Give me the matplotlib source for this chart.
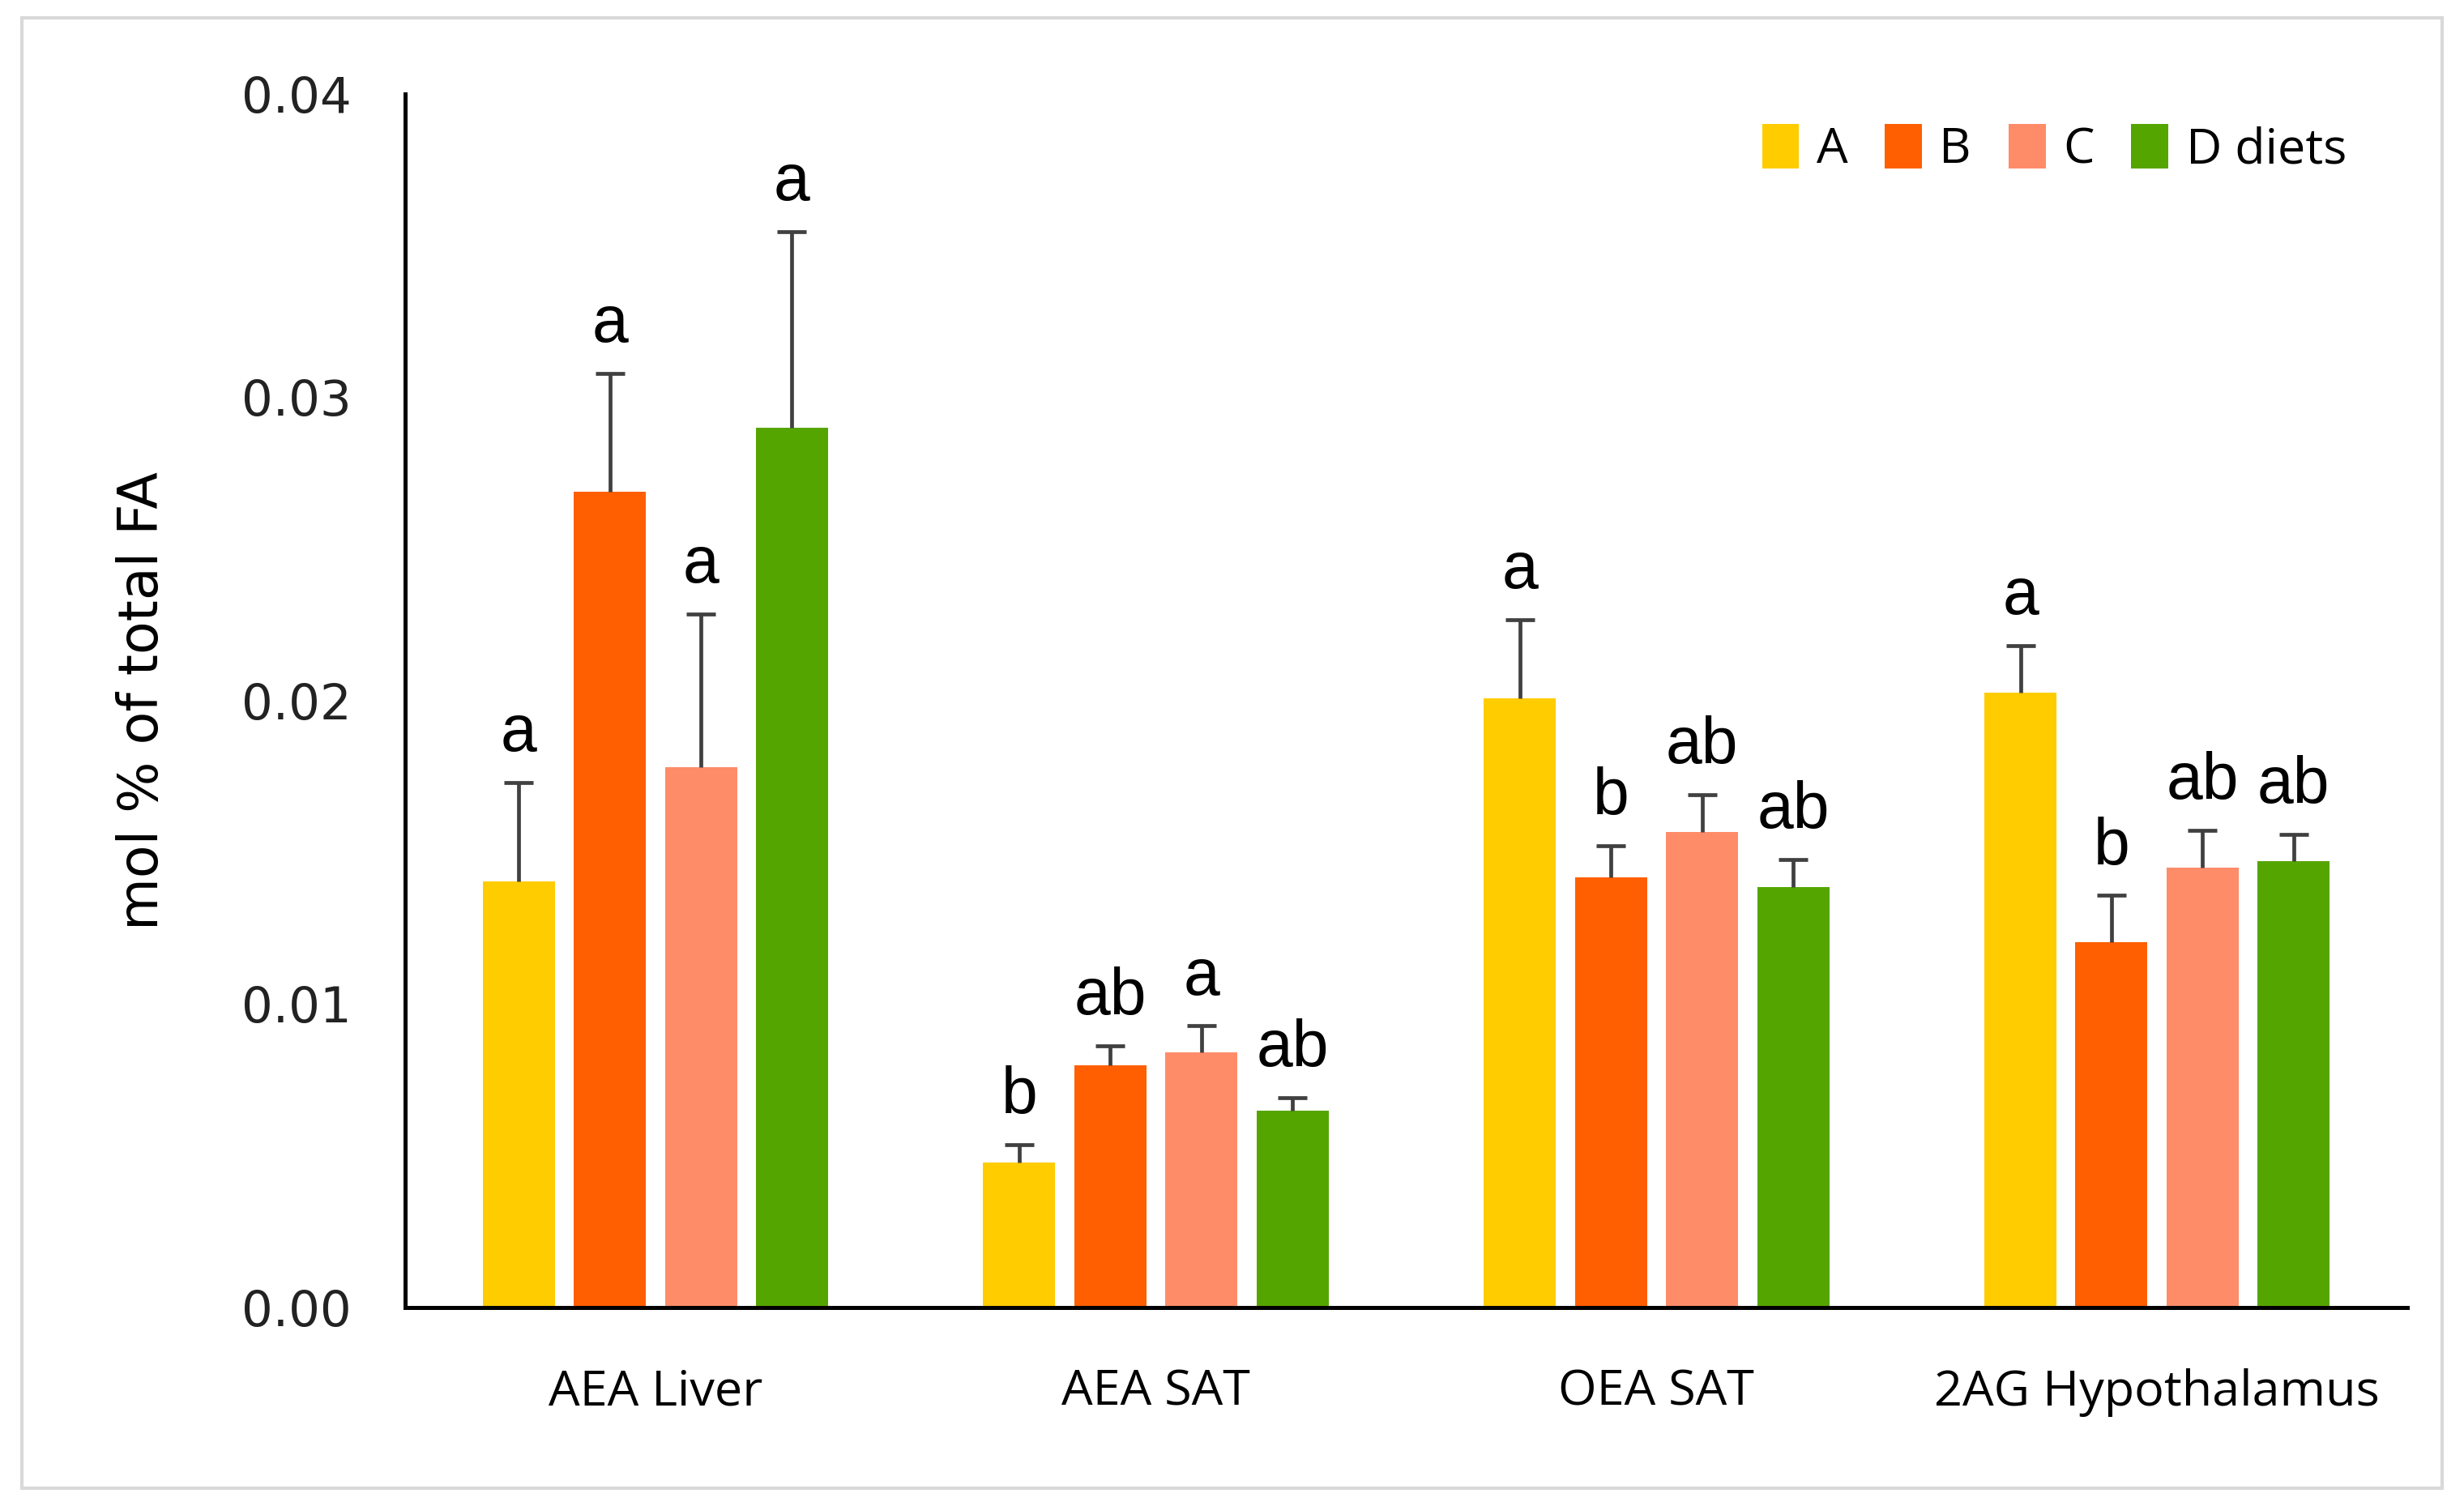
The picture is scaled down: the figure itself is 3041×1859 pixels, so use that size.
import matplotlib
matplotlib.use("Agg")
import matplotlib.pyplot as plt
import numpy as np
from matplotlib.patches import Rectangle

# data
categories = ['AEA Liver', 'AEA SAT', 'OEA SAT', '2AG Hypothalamus']
diets = ['A', 'B', 'C', 'D diets']
colors = ['#FFCC00', '#FF5F00', '#FF8C69', '#55A500']

means_a = [0.01405, 0.00478, 0.02007, 0.02028]
means_b = [0.02689, 0.00798, 0.01419, 0.01205]
means_c = [0.01780, 0.00841, 0.01567, 0.01450]
means_d = [0.02900, 0.00649, 0.01387, 0.01470]

err_a = [0.00325, 0.00058, 0.00261, 0.00153]
err_b = [0.00391, 0.00064, 0.00102, 0.00153]
err_c = [0.00506, 0.00087, 0.00123, 0.00123]
err_d = [0.00647, 0.00042, 0.00089, 0.00090]

letters_a = ['a', 'b', 'a', 'a']
letters_b = ['a', 'ab', 'b', 'b']
letters_c = ['a', 'a', 'ab', 'ab']
letters_d = ['a', 'ab', 'ab', 'ab']

means = [means_a, means_b, means_c, means_d]
errs = [err_a, err_b, err_c, err_d]
letters = [letters_a, letters_b, letters_c, letters_d]

fig = plt.figure(figsize=(15.205, 9.295), dpi=200)
ax = fig.add_axes([0.1644, 0.1318, 0.8126, 0.8058])

# light grey frame round the whole picture
fig.patches.append(Rectangle((0.009, 0.012), 0.982, 0.976, transform=fig.transFigure,
                             fill=False, edgecolor='#d9d9d9', linewidth=1.5))

x = np.arange(len(categories))
step = 0.182
width = 0.144
for i in range(len(diets)):
    pos = x + (i - 1.5) * step
    ax.bar(pos, means[i], width, color=colors[i], label=diets[i], zorder=2)
    eb = ax.errorbar(pos, means[i], yerr=[np.zeros(len(pos)), errs[i]], fmt='none',
                     ecolor='#404040', elinewidth=1.7, capsize=6.5, capthick=1.7, zorder=3)
    # only the upper caps, like the Excel "plus" error bars
    eb[1][0].set_visible(False)
    for j in range(len(pos)):
        ax.annotate(letters[i][j], (pos[j], means[i][j] + errs[i][j]),
                    textcoords='offset points', xytext=(0, 14), ha='center', va='baseline',
                    fontsize=29, family=['Liberation Sans', 'DejaVu Sans'])

ax.set_xlim(-0.5, 3.5)
ax.set_ylim(0, 0.04)
ax.set_yticks([0, 0.01, 0.02, 0.03, 0.04])
ax.set_yticklabels(['0.00', '0.01', '0.02', '0.03', '0.04'], fontsize=22, color='#222222')
ax.set_xticks(x)
ax.set_xticklabels(categories, fontsize=22, family=['Open Sans', 'DejaVu Sans'])
ax.tick_params(axis='both', length=0)
ax.tick_params(axis='y', pad=24)
ax.tick_params(axis='x', pad=27)

for s in ['top', 'right']:
    ax.spines[s].set_visible(False)
ax.spines['left'].set_linewidth(1.8)
ax.spines['bottom'].set_linewidth(1.8)

ax.set_ylabel('mol % of total FA', fontsize=24, family=['Liberation Sans Narrow', 'DejaVu Sans'],
              labelpad=32)

ax.legend(loc='center right', bbox_to_anchor=(0.982, 0.9546), ncol=4, frameon=False,
          handlelength=0.75, handleheight=1.0, handletextpad=0.35,
          columnspacing=0.75, borderpad=0, prop={'family': ['Open Sans', 'DejaVu Sans'], 'size': 22})

fig.savefig('out.png', dpi=200)
